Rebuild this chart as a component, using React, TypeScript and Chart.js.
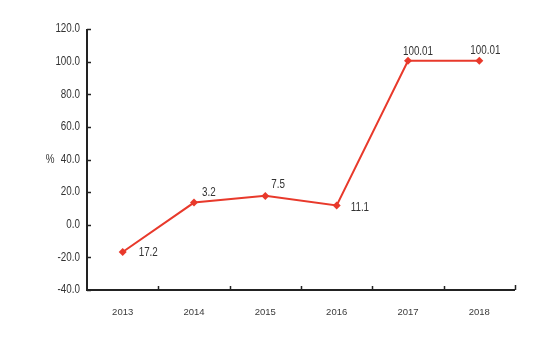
import React, { useEffect, useRef } from "react";
import { Chart, registerables } from "chart.js";

Chart.register(...registerables);

const years = ["2013", "2014", "2015", "2016", "2017", "2018"];
const values = [-16.7, 13.6, 17.7, 11.8, 100.5, 100.6];
const pointLabels = ["17.2", "3.2", "7.5", "11.1", "100.01", "100.01"];
const yTicks = [-40, -20, 0, 20, 40, 60, 80, 100, 120];

const RED = "#e8392b";
const AXIS = "#222222";
const SANS = "'Liberation Sans', Arial, sans-serif";
const SQUEEZE = 0.82;

// label placement relative to each point (dx, dy, align)
const labelPlacement: [number, number, CanvasTextAlign][] = [
  [16, 1, "left"],
  [8, -10, "left"],
  [6, -11, "left"],
  [14, 2, "left"],
  [10, -9, "center"],
  [6, -10, "center"],
];

function narrowText(
  ctx: CanvasRenderingContext2D,
  text: string,
  x: number,
  y: number,
  align: CanvasTextAlign
) {
  ctx.save();
  ctx.translate(x, y);
  ctx.scale(SQUEEZE, 1);
  ctx.textAlign = align;
  ctx.fillText(text, 0, 0);
  ctx.restore();
}

const customPlugin = {
  id: "custom",
  afterDraw(chart: any) {
    const ctx = chart.ctx as CanvasRenderingContext2D;
    const { left, right, top, bottom } = chart.chartArea;
    const ys = chart.scales.y;
    ctx.save();
    // axes
    ctx.strokeStyle = AXIS;
    ctx.lineWidth = 2;
    ctx.beginPath();
    ctx.moveTo(left, top);
    ctx.lineTo(left, bottom);
    ctx.lineTo(right, bottom);
    ctx.stroke();
    // y ticks (inward) + labels
    ctx.lineWidth = 1.5;
    ctx.fillStyle = "#333";
    ctx.font = `12px ${SANS}`;
    ctx.textBaseline = "middle";
    yTicks.forEach((v) => {
      const yp = ys.getPixelForValue(v);
      const y = Math.round(yp) + 0.5;
      ctx.beginPath();
      ctx.moveTo(left, y);
      ctx.lineTo(left + 4, y);
      ctx.stroke();
      narrowText(ctx, v.toFixed(1), left - 7, yp, "right");
    });
    // x ticks between categories (inward)
    const n = years.length;
    const w = (right - left) / n;
    for (let k = 1; k <= n; k++) {
      const x = Math.round(left + k * w) + 0.5;
      ctx.beginPath();
      ctx.moveTo(x, bottom);
      ctx.lineTo(x, bottom - (k === n ? 5 : 4));
      ctx.stroke();
    }
    // y title
    narrowText(ctx, "%", left - 37, ys.getPixelForValue(40), "center");
    // data labels
    const meta = chart.getDatasetMeta(0);
    meta.data.forEach((pt: any, i: number) => {
      const [dx, dy, align] = labelPlacement[i];
      narrowText(ctx, pointLabels[i], pt.x + dx, pt.y + dy, align);
    });
    ctx.restore();
  },
};

export default function App() {
  const ref = useRef<HTMLCanvasElement>(null);
  useEffect(() => {
    document.body.style.margin = "0";
    const chart = new Chart(ref.current!, {
      type: "line",
      data: {
        labels: years,
        datasets: [
          {
            data: values,
            borderColor: RED,
            backgroundColor: RED,
            borderWidth: 2,
            pointStyle: "rectRot",
            pointRadius: 4,
            pointBorderWidth: 0,
            tension: 0,
          },
        ],
      },
      options: {
        animation: false,
        responsive: false,
        devicePixelRatio: 1,
        layout: { padding: { left: 0, right: 45, top: 29, bottom: 38 } },
        plugins: { legend: { display: false }, tooltip: { enabled: false } },
        scales: {
          x: {
            offset: true,
            border: { display: false },
            grid: { display: false, offset: true },
            ticks: { color: "#3a3a3a", font: { family: SANS, size: 9.5 }, padding: 9 },
            afterFit: (s: any) => {
              s.height = 30;
            },
          },
          y: {
            min: -40,
            max: 120,
            border: { display: false },
            grid: { display: false },
            ticks: { display: false },
            afterFit: (s: any) => {
              s.width = 87;
            },
          },
        },
      },
      plugins: [customPlugin],
    });
    return () => chart.destroy();
  }, []);
  return <canvas ref={ref} width={560} height={358} style={{ display: "block" }} />;
}
